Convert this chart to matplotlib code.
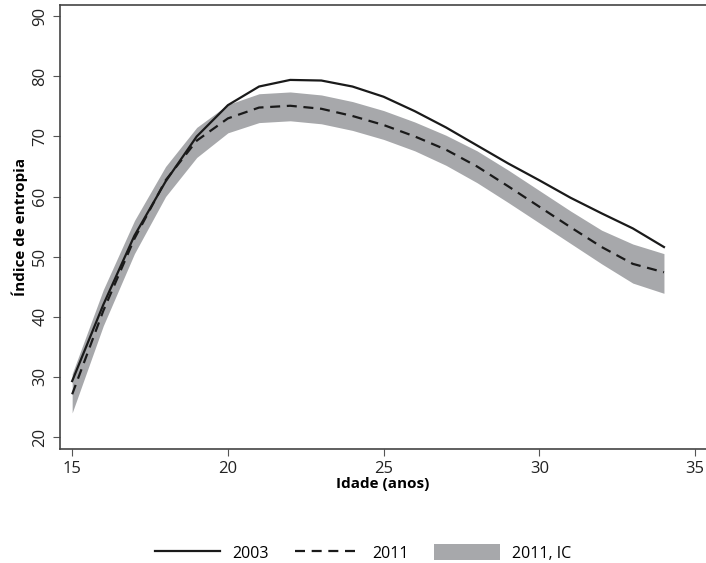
import matplotlib
matplotlib.use("Agg")
import matplotlib.pyplot as plt
import numpy as np

plt.rcParams['font.family'] = ['Open Sans', 'DejaVu Sans']

idade = np.arange(15, 35)
ie_2003 = [29.3, 42.0, 53.5, 62.5, 70.0, 75.2, 78.3, 79.4, 79.3, 78.3,
           76.6, 74.2, 71.5, 68.5, 65.5, 62.7, 59.8, 57.2, 54.7, 51.6]
ie_2011 = [27.1, 41.0, 53.0, 62.7, 69.3, 73.0, 74.8, 75.1, 74.6, 73.4,
           71.9, 70.0, 67.8, 65.0, 61.7, 58.3, 54.9, 51.6, 48.8, 47.4]
ic_inf = [24.0, 38.5, 50.5, 60.0, 66.5, 70.6, 72.3, 72.6, 72.1, 71.0,
          69.5, 67.6, 65.2, 62.3, 59.0, 55.6, 52.2, 48.8, 45.6, 43.9]
ic_sup = [30.5, 44.5, 56.0, 65.0, 71.5, 75.3, 77.1, 77.4, 76.9, 75.8,
          74.3, 72.4, 70.2, 67.6, 64.4, 61.0, 57.6, 54.4, 52.1, 50.5]

fig = plt.figure(figsize=(7.06, 5.63), dpi=100)
ax = fig.add_axes([0.085, 0.2025, 0.915, 0.789])

ax.fill_between(idade, ic_inf, ic_sup, color='#a7a8ab', linewidth=0, label='2011, IC')
ax.plot(idade, ie_2003, color='#1a1a1a', linewidth=1.6, label='2003')
ax.plot(idade, ie_2011, color='#1a1a1a', linewidth=1.6, dashes=(4.5, 3), label='2011')

ax.set_xlim(14.61, 35.35)
ax.set_ylim(18.0, 91.9)
ax.set_xticks([15, 20, 25, 30, 35])
ax.set_yticks([20, 30, 40, 50, 60, 70, 80, 90])
ax.tick_params(axis='both', labelsize=12, length=5, color='#555555', labelcolor='#222222')
for lbl in ax.get_yticklabels():
    lbl.set_rotation(90)
    lbl.set_va('center')

ax.set_xlabel('Idade (anos)', fontsize=11, fontweight='bold', labelpad=0)
ax.set_ylabel('Índice de entropia', fontsize=11, fontweight='bold', labelpad=3)

ax.spines['right'].set_visible(False)
for s in ['left', 'bottom', 'top']:
    ax.spines[s].set_color('#444444')
    ax.spines[s].set_linewidth(1.2)

h, l = ax.get_legend_handles_labels()
order = [1, 2, 0]
fig.legend([h[i] for i in order], [l[i] for i in order], loc='center',
           bbox_to_anchor=(0.514, 0.018), ncol=3, frameon=False, fontsize=11.5,
           handlelength=4.1, handleheight=1.2, handletextpad=0.75, columnspacing=1.6)

fig.savefig('out.png', dpi=100)
